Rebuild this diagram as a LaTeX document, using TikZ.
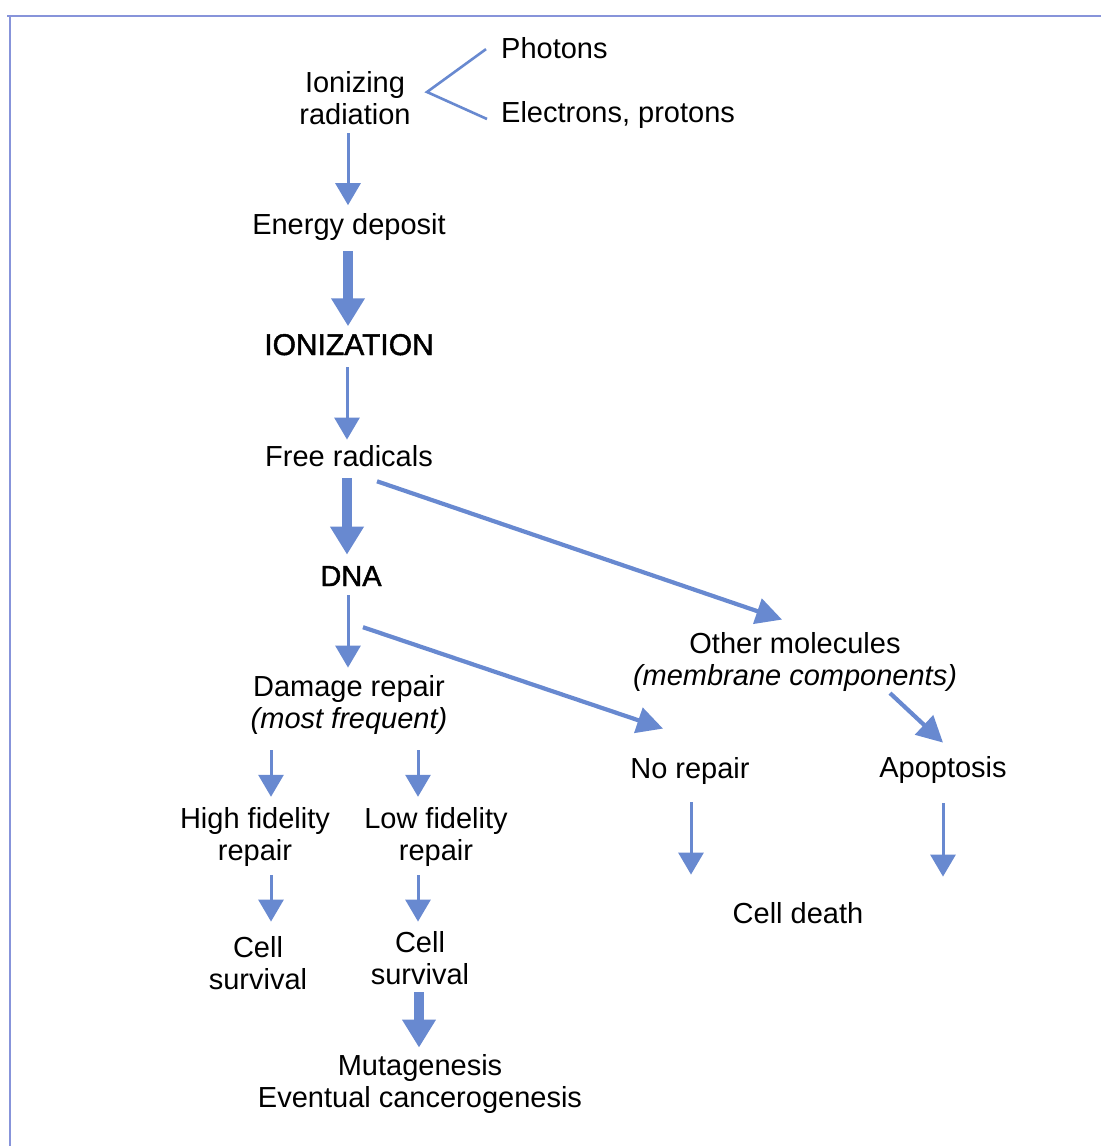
\documentclass[tikz,border=0pt]{standalone}
\usepackage{fontspec}
\setmainfont{Liberation Sans}
\newfontfamily\heavyfont{Liberation Sans}[FakeBold=1.6]
\usetikzlibrary{arrows.meta}
\definecolor{arrowblue}{RGB}{104,137,208}
\definecolor{frameblue}{RGB}{135,148,218}
\begin{document}
\begin{tikzpicture}[x=1pt,y=-1pt,
  lbl/.style={inner sep=0pt, align=center, anchor=base, font=\fontsize{29}{32}\selectfont},
  lblw/.style={lbl, anchor=base west},
  thinarrow/.style={draw=arrowblue, line width=3pt, -{Triangle[width=25pt,length=22pt]}},
  thickarrow/.style={draw=arrowblue, line width=9.5pt, -{Triangle[width=32pt,length=28pt]}},
  diagarrow/.style={draw=arrowblue, line width=4.2pt, -{Triangle[width=26pt,length=26pt]}},
  bracketline/.style={draw=arrowblue, line width=2.6pt},
  frameline/.style={draw=frameblue, line width=2pt}]
\useasboundingbox (0,0) rectangle (1101,1146);
% frame
\draw[frameline] (7,15.5) -- (1101,15.5);
\draw[frameline] (9.5,15.5) -- (9.5,1146);
% nodes (multi-line nodes are placed at the baseline of their last line)
\node[lblw] (ph) at (501,58) {Photons};
\node[lblw] (el) at (501,122) {Electrons, protons};
\node[lbl] (ir) at (355,124) {Ionizing\\radiation};
\node[lbl] (ed) at (349,234) {Energy deposit};
\node[lbl] (ion) at (349,355) {\heavyfont\fontsize{30}{32}\selectfont IONIZATION};
\node[lbl] (fr) at (349,466) {Free radicals};
\node[lbl] (dna) at (351,586) {\heavyfont DNA};
\node[lbl] (dr) at (349,728) {Damage repair\\\textit{(most frequent)}};
\node[lbl] (om) at (795,685) {Other molecules\\\textit{(membrane components)}};
\node[lbl] (nr) at (690,778) {No repair};
\node[lbl] (ap) at (943,777) {Apoptosis};
\node[lbl] (hf) at (255,860) {High fidelity\\repair};
\node[lbl] (lf) at (436,860) {Low fidelity\\repair};
\node[lbl] (cs1) at (258,989) {Cell\\survival};
\node[lbl] (cs2) at (420,984) {Cell\\survival};
\node[lbl] (mu) at (420,1107) {Mutagenesis\\Eventual cancerogenesis};
\node[lbl] (cd) at (798,923) {Cell death};
% bracket
\coordinate (apex) at (427,92);
\draw[bracketline] ([xshift=-15pt,yshift=-1.5pt]ph.west) -- (apex) -- ([xshift=-14pt,yshift=-4.5pt]el.west);
% arrows
\draw[thinarrow] ([xshift=-7pt,yshift=-9pt]ir.south) -- ([xshift=-1pt,yshift=7.6pt]ed.north);
\draw[thickarrow] ([xshift=-1pt,yshift=-11pt]ed.south) -- ([xshift=-1pt,yshift=7.6pt]ion.north);
\draw[thinarrow] ([xshift=-2pt,yshift=-11.7pt]ion.south) -- ([xshift=-2pt,yshift=5.2pt]fr.north);
\draw[thickarrow] ([xshift=-2pt,yshift=-11.8pt]fr.south) -- ([xshift=-4pt,yshift=11.2pt]dna.north);
\draw[diagarrow] ([xshift=28pt,yshift=-14.8pt]fr.south) -- ([xshift=-13pt,yshift=12.2pt]om.north);
\draw[thinarrow] ([xshift=-3pt,yshift=-9pt]dna.south) -- ([xshift=-1pt,yshift=7.2pt]dr.north);
\draw[diagarrow] ([xshift=12pt,yshift=-41pt]dna.south) -- ([xshift=-27pt,yshift=28.2pt]nr.north);
\draw[diagarrow] ([xshift=95pt,yshift=-1.9pt]om.south) -- ([yshift=13.2pt]ap.north);
\draw[thinarrow] ([xshift=-78pt,yshift=-15.9pt]dr.south) -- ([xshift=16pt,yshift=10pt]hf.north);
\draw[thinarrow] ([xshift=69pt,yshift=-15.9pt]dr.south) -- ([xshift=-18pt,yshift=10pt]lf.north);
\draw[thinarrow] ([xshift=16pt,yshift=-8.9pt]hf.south) -- ([xshift=13pt,yshift=14.2pt]cs1.north);
\draw[thinarrow] ([xshift=-18pt,yshift=-8.9pt]lf.south) -- ([xshift=-2pt,yshift=9.2pt]cs2.north);
\draw[thickarrow] ([xshift=-1pt,yshift=-8pt]cs2.south) -- ([xshift=-1pt,yshift=6.2pt]mu.north);
\draw[thinarrow] ([xshift=1pt,yshift=-17.9pt]nr.south) -- ([xshift=-107pt,yshift=27.2pt]cd.north);
\draw[thinarrow] ([yshift=-19.9pt]ap.south) -- ([xshift=145pt,yshift=25.2pt]cd.north);
\end{tikzpicture}
\end{document}
